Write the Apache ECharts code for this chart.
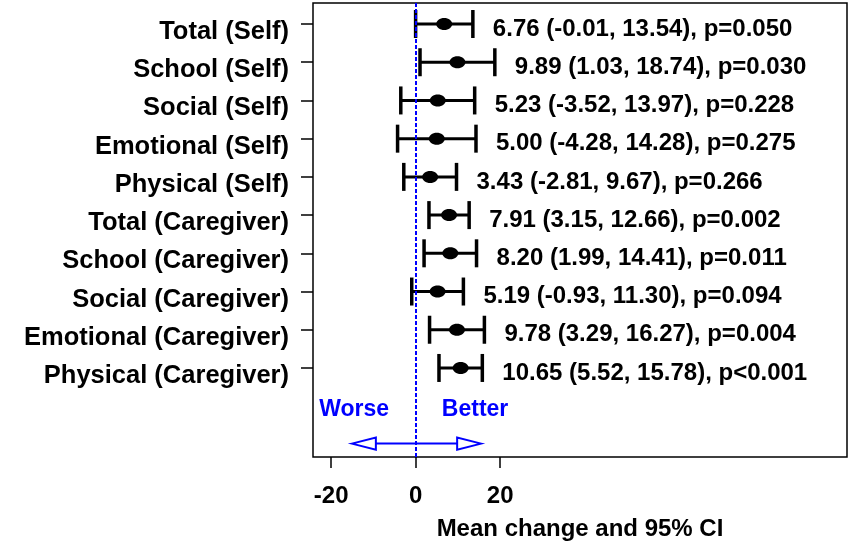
<!DOCTYPE html>
<html>
<head>
<meta charset="utf-8">
<script src="https://cdn.jsdelivr.net/npm/echarts@6/dist/echarts.min.js"></script>
<style>
html,body{margin:0;padding:0;background:#fff;}
#chart{width:851px;height:545px;}
</style>
</head>
<body>
<div id="chart"></div>
<script>
const categories = ['Total (Self)', 'School (Self)', 'Social (Self)', 'Emotional (Self)', 'Physical (Self)',
  'Total (Caregiver)', 'School (Caregiver)', 'Social (Caregiver)', 'Emotional (Caregiver)', 'Physical (Caregiver)'];
const means = [6.76, 9.89, 5.23, 5.00, 3.43, 7.91, 8.20, 5.19, 9.78, 10.65];
const lower = [-0.01, 1.03, -3.52, -4.28, -2.81, 3.15, 1.99, -0.93, 3.29, 5.52];
const upper = [13.54, 18.74, 13.97, 14.28, 9.67, 12.66, 14.41, 11.30, 16.27, 15.78];
const pValues = ['0.050', '0.030', '0.228', '0.275', '0.266', '0.002', '0.011', '0.094', '0.004', '<0.001'];
const xTicks = [-20, 0, 20];
const directionLabels = ['Worse', 'Better'];
const directionLabelX = [-6.3, 6.2];
const directionLabelRow = 10.1;
const arrowEnds = [-15.1, 15.5];
const arrowRow = 10.98;

const FONT = '"Liberation Sans", Arial, Helvetica, sans-serif';
const BLUE = '#0000ff';

function fmt(v) { return v.toFixed(2); }
function pText(p) { return p.charAt(0) === '<' ? 'p' + p : 'p=' + p; }

const rows = categories.map((c, i) => [means[i], i, lower[i], upper[i]]);

const chart = echarts.init(document.getElementById('chart'), null, { renderer: 'canvas' });

const option = {
  animation: false,
  backgroundColor: '#fff',
  grid: {
    left: 313, top: 3, right: 4, bottom: 88,
    containLabel: false, outerBoundsMode: 'none',
    show: true, borderColor: '#000', borderWidth: 1.5, backgroundColor: 'transparent'
  },
  xAxis: {
    type: 'value',
    min: -24.3, max: 102.1,
    splitLine: { show: false },
    axisLine: { show: false, onZero: false },
    axisTick: { show: true, inside: false, customValues: xTicks, length: 11, lineStyle: { color: '#000', width: 1.5 } },
    axisLabel: {
      customValues: xTicks, margin: 27,
      color: '#000', fontFamily: FONT, fontWeight: 'bold', fontSize: 24
    },
    name: 'Mean change and 95% CI',
    nameLocation: 'middle',
    nameGap: 60,
    nameTextStyle: { color: '#000', fontFamily: FONT, fontWeight: 'bold', fontSize: 24 }
  },
  yAxis: {
    type: 'value',
    inverse: true,
    min: -0.55, max: 11.33,
    splitLine: { show: false },
    axisLine: { show: false, onZero: false },
    axisTick: { show: true, inside: false, customValues: categories.map((c, i) => i), length: 12, lineStyle: { color: '#000', width: 1.5 } },
    axisLabel: {
      customValues: categories.map((c, i) => i), margin: 24,
      verticalAlign: 'top', lineHeight: 16,
      formatter: function (v) { return categories[Math.round(v)]; },
      color: '#000', fontFamily: FONT, fontWeight: 'bold', fontSize: 25.5
    }
  },
  series: [
    {
      type: 'custom',
      data: rows,
      encode: { x: [0, 2, 3], y: 1 },
      renderItem: function (params, api) {
        const m = api.coord([api.value(0), api.value(1)]);
        const lo = api.coord([api.value(2), api.value(1)]);
        const hi = api.coord([api.value(3), api.value(1)]);
        const i = params.dataIndex;
        const cap = 14;
        return {
          type: 'group',
          children: [
            { type: 'line', shape: { x1: lo[0], y1: lo[1], x2: hi[0], y2: hi[1] }, style: { stroke: '#000', lineWidth: 3 } },
            { type: 'line', shape: { x1: lo[0], y1: lo[1] - cap, x2: lo[0], y2: lo[1] + cap }, style: { stroke: '#000', lineWidth: 3.5 } },
            { type: 'line', shape: { x1: hi[0], y1: hi[1] - cap, x2: hi[0], y2: hi[1] + cap }, style: { stroke: '#000', lineWidth: 3.5 } },
            { type: 'ellipse', shape: { cx: m[0], cy: m[1], rx: 8, ry: 6 }, style: { fill: '#000' } },
            {
              type: 'text',
              x: hi[0] + 20, y: hi[1] + 5,
              style: {
                text: fmt(means[i]) + ' (' + fmt(lower[i]) + ', ' + fmt(upper[i]) + '), ' + pText(pValues[i]),
                fill: '#000', font: 'bold 24px ' + FONT,
                textAlign: 'left', textVerticalAlign: 'middle'
              }
            }
          ]
        };
      },
      markLine: {
        silent: true,
        symbol: 'none',
        label: { show: false },
        lineStyle: { color: BLUE, width: 2, type: [4, 2] },
        data: [{ xAxis: 0 }]
      },
      z: 3
    },
    {
      type: 'custom',
      data: directionLabels.map((d, i) => [directionLabelX[i], directionLabelRow]),
      renderItem: function (params, api) {
        const p = api.coord([api.value(0), api.value(1)]);
        const i = params.dataIndex;
        return {
          type: 'text',
          x: p[0], y: p[1],
          style: {
            text: directionLabels[i], fill: BLUE, font: 'bold 23px ' + FONT,
            textAlign: i === 0 ? 'right' : 'left', textVerticalAlign: 'middle'
          }
        };
      }
    },
    {
      type: 'custom',
      data: [[arrowEnds[0], arrowRow, arrowEnds[1]]],
      encode: { x: [0, 2], y: 1 },
      renderItem: function (params, api) {
        const a = api.coord([api.value(0), api.value(1)]);
        const b = api.coord([api.value(2), api.value(1)]);
        const hl = 24, hw = 6;
        const st = { stroke: BLUE, lineWidth: 2, fill: '#fff' };
        return {
          type: 'group',
          children: [
            { type: 'line', shape: { x1: a[0] + hl, y1: a[1], x2: b[0] - hl, y2: b[1] }, style: { stroke: BLUE, lineWidth: 2 } },
            { type: 'polygon', shape: { points: [[a[0], a[1]], [a[0] + hl, a[1] - hw], [a[0] + hl, a[1] + hw]] }, style: st },
            { type: 'polygon', shape: { points: [[b[0], b[1]], [b[0] - hl, b[1] - hw], [b[0] - hl, b[1] + hw]] }, style: st }
          ]
        };
      },
      z: 4
    }
  ]
};

chart.setOption(option);
</script>
</body>
</html>
